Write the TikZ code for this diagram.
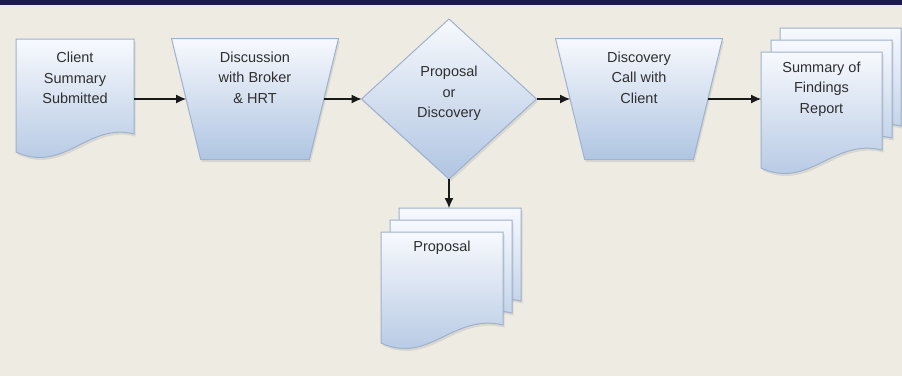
\documentclass[tikz,border=0pt]{standalone}
\usepackage{fontspec}
\setmainfont{Liberation Sans}
\usetikzlibrary{positioning,calc,shapes.geometric,arrows.meta,shadows}
\definecolor{paper}{HTML}{EEEBE2}
\definecolor{navy}{HTML}{1C1B4D}
\definecolor{edge}{HTML}{9DB2CE}
\definecolor{shadetop}{HTML}{F7F9FD}
\definecolor{shadebot}{HTML}{B0C5E2}
\definecolor{ink}{HTML}{2F2F2F}
% one sheet with a wavy bottom, drawn over an (invisible) named node
\newcommand{\docsheet}[1]{%
  \path[boxfill] (#1.north west) -- (#1.north east) -- ([yshift=18pt]#1.south east)
    .. controls ([xshift=72pt,yshift=30pt]#1.south west) and ([xshift=48pt,yshift=-22pt]#1.south west) .. (#1.south west) -- cycle;}

\begin{document}
\begin{tikzpicture}[x=1pt,y=-1pt,every node/.style={inner sep=0pt,outer sep=0pt},
  boxfill/.style={draw=edge, line width=1pt, top color=shadetop, bottom color=shadebot,
    drop shadow={shadow xshift=1.5pt, shadow yshift=-2.5pt, opacity=.18}},
  sheet/.style={minimum width=120pt, minimum height=113pt},
  trap/.style={trapezium, shape border rotate=180, trapezium angle=75, inner sep=2pt,
    trapezium stretches=true, minimum width=167pt, minimum height=121pt, boxfill},
  dec/.style={diamond, inner sep=2pt, minimum width=175pt, minimum height=160pt, boxfill},
  lbl/.style={font=\fontsize{14.5}{20.5}\selectfont, text=ink, align=center},
  arr/.style={-{Latex[length=10pt,width=9pt]}, line width=1.2pt, draw=black!90}]
\useasboundingbox (0,0) rectangle (902,376);
\fill[paper] (0,0) rectangle (902,376);
\fill[navy] (0,0) rectangle (902,5);
% SHAPES: documents are plain nodes, their sheets drawn afterwards
\node[sheet, minimum width=118pt] (summ) at (75,95.5) {};
\node[trap] (disc) at (255,99) {};
\node[dec] (dec) at (449,99) {};
\node[trap] (call) at (639,99) {};
\node[sheet, minimum width=121pt, minimum height=116pt] (finds) at (821.5,110) {};
\node[sheet, minimum width=121pt, minimum height=116pt] (finds2) at ([xshift=10pt,yshift=12pt]finds) {};
\node[sheet, minimum width=121pt, minimum height=116pt] (finds3) at ([xshift=19pt,yshift=24pt]finds) {};
\node[sheet, minimum width=122pt, minimum height=111pt] (prop) at (442,287.5) {};
\node[sheet, minimum width=122pt, minimum height=111pt] (prop2) at ([xshift=9pt,yshift=12pt]prop) {};
\node[sheet, minimum width=122pt, minimum height=111pt] (prop3) at ([xshift=18pt,yshift=24pt]prop) {};
\docsheet{summ}
\docsheet{finds3} \docsheet{finds2} \docsheet{finds}
\docsheet{prop3} \docsheet{prop2} \docsheet{prop}
% LABELS
\node[lbl, below=13pt of summ.north] (summtxt) {Client\\Summary\\Submitted};
\node[lbl, below=13pt of disc.north] (disctxt) {Discussion\\with Broker\\\& HRT};
\node[lbl, below=47pt of dec.north] (dectxt) {Proposal\\or\\Discovery};
\node[lbl, below=13pt of call.north] (calltxt) {Discovery\\Call with\\Client};
\node[lbl, below=10pt of finds.north] (findstxt) {Summary of\\Findings\\Report};
\node[lbl, below=9pt of prop.north] (proptxt) {Proposal};
% FLOW
\draw[arr] (summ.east |- disc.west) -- (disc.west);
\draw[arr] (disc.east) -- (dec.west);
\draw[arr] (dec.east) -- (call.west);
\draw[arr] (call.east) -- (call.east -| finds.west);
\draw[arr] (dec.south) -- (dec.south |- prop3.north);
\end{tikzpicture}
\end{document}
